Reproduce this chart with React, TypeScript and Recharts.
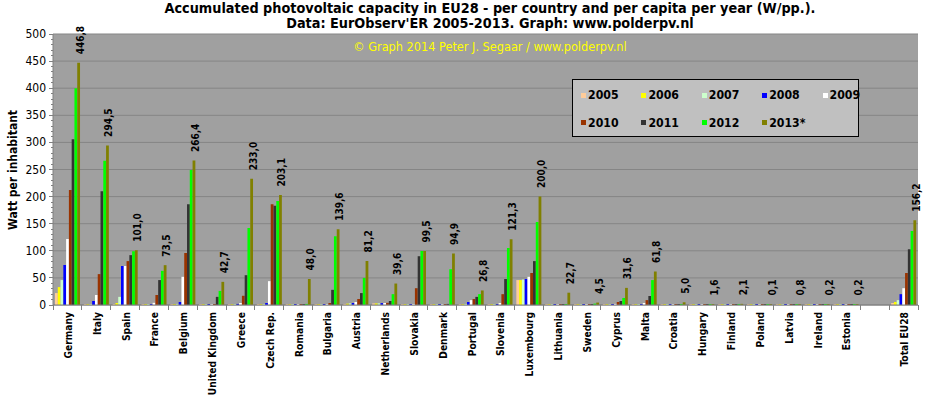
import React from 'react';
import { BarChart, Bar, XAxis, YAxis, CartesianGrid, LabelList } from 'recharts';

const countries = [
  'Germany', 'Italy', 'Spain', 'France', 'Belgium', 'United Kingdom', 'Greece', 'Czech Rep.',
  'Romania', 'Bulgaria', 'Austria', 'Netherlands', 'Slovakia', 'Denmark', 'Portugal', 'Slovenia',
  'Luxembourg', 'Lithuania', 'Sweden', 'Cyprus', 'Malta', 'Croatia', 'Hungary', 'Finland',
  'Poland', 'Latvia', 'Ireland', 'Estonia', '', 'Total EU28',
];

const years = ['2005', '2006', '2007', '2008', '2009', '2010', '2011', '2012', '2013*'];
const colors = ['#FFCC99', '#FFFF00', '#CCFFCC', '#0000FF', '#FFFFFF', '#993300', '#333333', '#00FF00', '#808000'];

const v2005 = [22, 0.3, 1, 0.5, 0.5, 0.3, 0.3, 0.5, 0.1, 0.1, 2, 3, 0.1, 0.5, 0.5, 0.2, 46, 0, 0.5, 0.5, 0.1, 0, 0.1, 0.5, 0.1, 0, 0.1, 0, null, 3.7];
const v2006 = [33, 0.3, 3.7, 0.6, 0.8, 0.3, 0.3, 0.8, 0.1, 0.1, 2.5, 3, 0.1, 0.5, 0.6, 0.2, 46, 0, 0.5, 0.6, 0.1, 0, 0.1, 0.5, 0.1, 0, 0.1, 0, null, 5.5];
const v2007 = [46, 1.5, 15, 1, 2, 0.3, 0.5, 1, 0.1, 0.1, 3, 3, 0.1, 0.5, 1.5, 0.5, 47, 0, 0.6, 0.8, 0.2, 0, 0.1, 0.5, 0.1, 0, 0.1, 0, null, 9];
const v2008 = [74, 7.4, 72, 1.5, 5.5, 0.5, 2, 3.7, 0.3, 0.2, 3.7, 3.5, 0.1, 0.6, 5.5, 1, 48, 0.1, 0.8, 1, 0.5, 0, 0.1, 0.5, 0.1, 0, 0.1, 0, null, 20];
const v2009 = [122, 18.5, 72, 4, 52, 0.5, 3.7, 44, 0.3, 0.5, 5.5, 3.7, 0.3, 1, 9, 3.7, 52, 0.1, 0.9, 2, 3.7, 0, 0.1, 0.5, 0.1, 0, 0.1, 0, null, 31];
const v2010 = [212, 57, 81, 18.5, 96, 1.5, 17, 186, 0.3, 3.7, 11, 4, 31, 1.5, 11, 20, 59, 0.1, 1, 5.5, 9, 0, 0.2, 1, 0.1, 0.2, 0.2, 0.1, null, 59];
const v2011 = [306, 210, 92, 46, 186, 15, 55, 183, 0.5, 28, 22, 7.4, 90, 2, 15, 48, 81, 0.1, 1.5, 7.4, 16.6, 0.1, 0.3, 1.5, 0.1, 0.3, 0.2, 0.1, null, 103];
const v2012 = [400, 266, 99, 63, 249, 26, 142, 192, 2, 127, 50, 20, 99.5, 66, 20, 105, 153, 0.2, 2.5, 13, 46, 1, 0.8, 1.8, 0.1, 0.5, 0.2, 0.2, null, 136.5];
const v2013 = [446.8, 294.5, 101.0, 73.5, 266.4, 42.7, 233.0, 203.1, 48.0, 139.6, 81.2, 39.6, 99.5, 94.9, 26.8, 121.3, 200.0, 22.7, 4.5, 31.6, 61.8, 5.0, 1.6, 2.1, 0.1, 0.8, 0.2, 0.2, null, 156.2];

const series = [v2005, v2006, v2007, v2008, v2009, v2010, v2011, v2012, v2013];

const majorTicks = [0, 50, 100, 150, 200, 250, 300, 350, 400, 450, 500];
const allTicks = Array.from({ length: 51 }, (_, i) => i * 10);

const data = countries.map((c, i) => {
  const row: any = { country: c };
  series.forEach((s, k) => {
    row['y' + k] = s[i];
  });
  return row;
});

const W = 930;
const H = 399;
const M = { top: 34, right: 12, left: 0, bottom: 0 };
const Y_W = 53;
const X_H = 94;
const HALF = (W - Y_W - M.right) / countries.length / 2;

const FONT = '"DejaVu Sans Condensed", "DejaVu Sans", sans-serif';

const YTick = (props: any) => {
  const { x, y, payload } = props;
  const major = payload.value % 50 === 0;
  return (
    <g>
      <line x1={x - (major ? 4 : 2)} x2={x} y1={y} y2={y} stroke="#808080" shapeRendering="crispEdges" />
      {major && (
        <text x={x - 7} y={y} textAnchor="end" dominantBaseline="central" fontSize={12} fill="#000" fontFamily={FONT}>
          {payload.value}
        </text>
      )}
    </g>
  );
};

const XTick = (props: any) => {
  const { x, y, payload } = props;
  const index = props.index ?? payload.index;
  return (
    <g>
      <line x1={x - HALF} x2={x - HALF} y1={y} y2={y + 5} stroke="#808080" shapeRendering="crispEdges" />
      {index === countries.length - 1 && (
        <line x1={x + HALF} x2={x + HALF} y1={y} y2={y + 5} stroke="#808080" shapeRendering="crispEdges" />
      )}
      <text
        transform={`translate(${x + 1},${y + 7}) rotate(-90)`}
        textAnchor="end"
        dominantBaseline="central"
        fontSize={10.2}
        fontWeight="bold"
        fill="#000"
        fontFamily={FONT}
      >
        {payload.value}
      </text>
    </g>
  );
};

const ValueLabel = (props: any) => {
  const { x, y, width, value } = props;
  if (value == null) return null;
  const cx = x + width / 2 + 1.5;
  const cy = y - 8.5;
  return (
    <text
      transform={`translate(${cx},${cy}) rotate(-90)`}
      textAnchor="start"
      dominantBaseline="central"
      fontSize={10}
      fontWeight="bold"
      fill="#000"
      fontFamily={FONT}
    >
      {Number(value).toFixed(1).replace('.', ',')}
    </text>
  );
};

export default function App() {
  return (
    <div style={{ position: 'absolute', left: 0, top: 0, width: W, height: H, background: '#fff', fontFamily: FONT }}>
      <div style={{ position: 'absolute', left: 0, top: 1, width: 980, textAlign: 'center', fontWeight: 'bold', fontSize: 14.3, lineHeight: '15px', color: '#000' }}>
        <div>Accumulated photovoltaic capacity in EU28 - per country and per capita per year (W/pp.).</div>
        <div>Data: EurObserv'ER 2005-2013. Graph: www.polderpv.nl</div>
      </div>
      <BarChart width={W} height={H} data={data} margin={M} barGap={0} barSize={2.78}>
        <CartesianGrid fill="#A0A0A0" vertical={false} stroke="#858585" horizontalValues={majorTicks} />
        <XAxis
          dataKey="country"
          interval={0}
          height={X_H}
          tickSize={0}
          tickMargin={0}
          tick={<XTick />}
          axisLine={{ stroke: '#808080' }}
          tickLine={false}
        />
        <YAxis
          domain={[0, 500]}
          ticks={allTicks}
          interval={0}
          width={Y_W}
          tickSize={0}
          tickMargin={0}
          tick={<YTick />}
          tickLine={false}
          axisLine={{ stroke: '#808080' }}
          allowDataOverflow
        />
        {series.map((_, k) => (
          <Bar key={k} dataKey={'y' + k} name={years[k]} fill={colors[k]} isAnimationActive={false} minPointSize={1}>
            {k === series.length - 1 && <LabelList dataKey={'y' + k} content={<ValueLabel />} />}
          </Bar>
        ))}
      </BarChart>
      <div style={{ position: 'absolute', left: 340, top: 40, width: 300, textAlign: 'center', color: '#FFFF00', fontSize: 12.6, lineHeight: '14px', whiteSpace: 'nowrap' }}>
        © Graph 2014 Peter J. Segaar / www.polderpv.nl
      </div>
      <div
        style={{
          position: 'absolute',
          left: 13,
          top: 170,
          transform: 'translate(-50%,-50%) rotate(-90deg)',
          fontWeight: 'bold',
          fontSize: 12,
          whiteSpace: 'nowrap',
          color: '#000',
        }}
      >
        Watt per inhabitant
      </div>
      <div
        style={{
          position: 'absolute',
          left: 572,
          top: 79,
          width: 285,
          height: 56,
          background: '#C0C0C0',
          border: '1px solid #000',
        }}
      >
        {years.map((yr, k) => {
          const col = k % 5;
          const row = Math.floor(k / 5);
          return (
            <div
              key={yr}
              style={{
                position: 'absolute',
                left: 8 + col * 60.4,
                top: 8 + row * 27.5,
                height: 14,
                display: 'flex',
                alignItems: 'center',
                whiteSpace: 'nowrap',
              }}
            >
              <span style={{ display: 'inline-block', width: 5, height: 5, background: colors[k], marginRight: 2 }} />
              <span style={{ fontWeight: 'bold', fontSize: 12.2, color: '#000' }}>{yr}</span>
            </div>
          );
        })}
      </div>
    </div>
  );
}
